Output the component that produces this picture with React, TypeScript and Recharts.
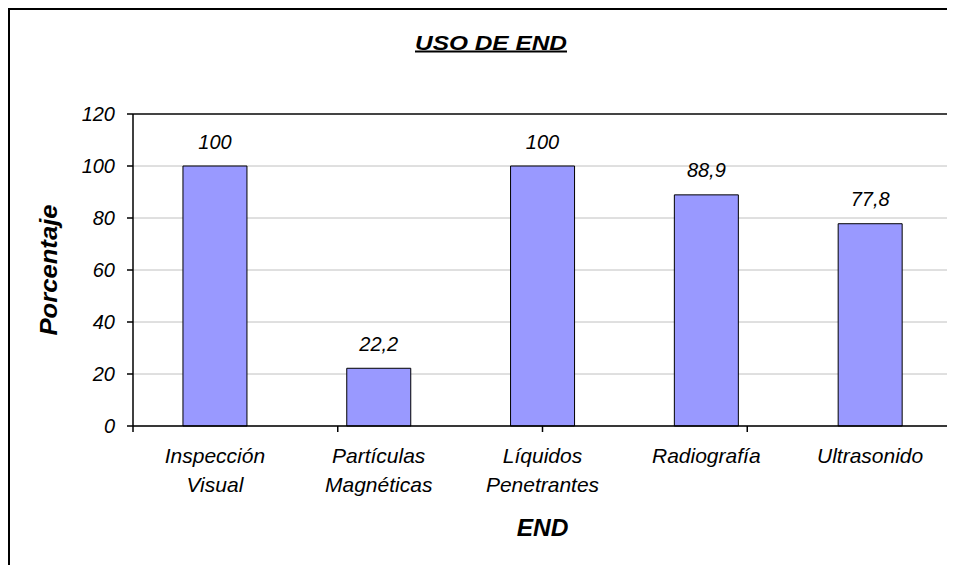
import React from "react";
import { BarChart, Bar, XAxis, YAxis, CartesianGrid, ReferenceLine, LabelList } from "recharts";

const FONT = "Arial, 'Liberation Sans', sans-serif";

const categories = ["Inspección Visual", "Partículas Magnéticas", "Líquidos Penetrantes", "Radiografía", "Ultrasonido"];
const percentages = [100, 22.2, 100, 88.9, 77.8];
const yTicks = [0, 20, 40, 60, 80, 100, 120];
const edgeTicks = [0, 1, 2, 3, 4, 5];
const chartTitle = "USO DE END";
const yTitle = "Porcentaje";
const xTitle = "END";

const data = categories.map((name, i) => ({ name, value: percentages[i] }));

const CatTick = (props: any) => {
  const { x, y, payload } = props;
  const lines = String(payload.value).split(" ");
  return (
    <text x={x} y={y} textAnchor="middle" fontSize={21} fontStyle="italic" fill="#000" fontFamily={FONT}>
      {lines.map((l: string, i: number) => (
        <tspan key={i} x={x} dy={i === 0 ? 36 : 29}>{l}</tspan>
      ))}
    </text>
  );
};

const YTitle = (p: any) => {
  const vb = p.viewBox || {};
  const cx = (vb.x ?? 0) + 47;
  const cy = (vb.y ?? 0) + (vb.height ?? 0) / 2;
  return (
    <text
      x={cx}
      y={cy}
      transform={`rotate(-90, ${cx}, ${cy})`}
      textAnchor="middle"
      fontSize={24}
      fontWeight="bold"
      fontStyle="italic"
      fontFamily={FONT}
      fill="#000"
      textLength={131}
      lengthAdjust="spacingAndGlyphs"
    >
      {yTitle}
    </text>
  );
};

const XTitle = (p: any) => {
  const vb = p.viewBox || {};
  const cx = (vb.x ?? 0) + (vb.width ?? 0) / 2;
  const cy = (vb.y ?? 0) + 109;
  return (
    <text x={cx} y={cy} textAnchor="middle" fontSize={24.5} fontWeight="bold" fontStyle="italic" fontFamily={FONT} fill="#000">
      {xTitle}
    </text>
  );
};

const fmt = (v: any) => String(v).replace(".", ",");

export default function App() {
  return (
    <div style={{ position: "relative", width: 945, height: 555, borderLeft: "2px solid #000", borderTop: "2px solid #000" }}>
      <style>{`html,body{overflow:hidden}`}</style>
      <BarChart
        width={945}
        height={555}
        data={data}
        margin={{ top: 104, right: 3, left: 0, bottom: 0 }}
        barCategoryGap="30.5%"
      >
        <CartesianGrid vertical={false} stroke="#c0c0c0" strokeWidth={1} xAxisId="b" />
        <XAxis
          xAxisId="b"
          dataKey="name"
          height={138}
          axisLine={false}
          tickLine={false}
          tickSize={0}
          tickMargin={0}
          interval={0}
          tick={<CatTick />}
          label={{ content: <XTitle /> }}
        />
        <XAxis
          xAxisId="a"
          type="number"
          domain={[0, 5]}
          ticks={edgeTicks}
          allowDataOverflow
          height={1}
          tickSize={6}
          axisLine={{ stroke: "#000", strokeWidth: 1.5 }}
          tickLine={{ stroke: "#000", strokeWidth: 1.5 }}
          tick={() => <g />}
        />
        <YAxis
          width={123}
          domain={[0, 120]}
          ticks={yTicks}
          interval={0}
          tickSize={6}
          tickMargin={12}
          axisLine={{ stroke: "#000", strokeWidth: 1.5 }}
          tickLine={{ stroke: "#000", strokeWidth: 1.5 }}
          tick={{ fontSize: 20, fontStyle: "italic", fill: "#000", fontFamily: FONT }}
          label={{ content: <YTitle /> }}
        />
        <ReferenceLine y={120} xAxisId="b" stroke="#111" strokeWidth={1.5} />
        <ReferenceLine x={5} xAxisId="a" stroke="#111" strokeWidth={1.5} />
        <Bar dataKey="value" xAxisId="b" fill="#9999ff" stroke="#000" strokeWidth={1} isAnimationActive={false}>
          <LabelList
            dataKey="value"
            position="top"
            offset={17.5}
            formatter={fmt}
            style={{ fontSize: 20, fontStyle: "italic", fill: "#000", fontFamily: FONT }}
          />
        </Bar>
      </BarChart>
      <svg width={945} height={80} style={{ position: "absolute", left: 0, top: 0, pointerEvents: "none" }}>
        <text
          x={481}
          y={39.5}
          textAnchor="middle"
          fontSize={20}
          fontWeight="bold"
          fontStyle="italic"
          fontFamily={FONT}
          textDecoration="underline"
          fill="#000"
          textLength={152}
          lengthAdjust="spacingAndGlyphs"
        >
          {chartTitle}
        </text>
      </svg>
    </div>
  );
}
